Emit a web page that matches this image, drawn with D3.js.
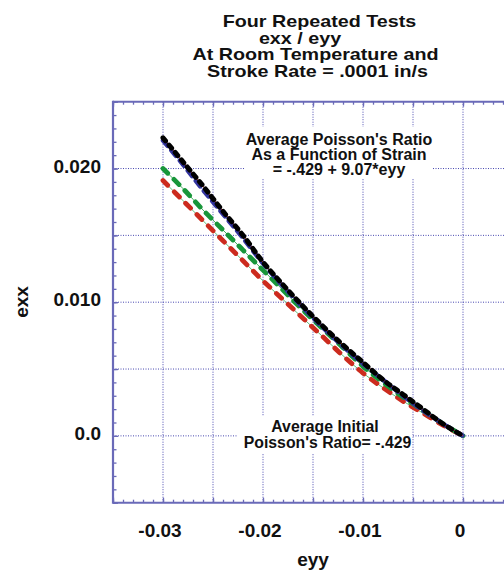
<!DOCTYPE html>
<html><head><meta charset="utf-8">
<script src="https://cdn.jsdelivr.net/npm/d3@7"></script>
<style>body{margin:0;background:#fff}svg{display:block}text{font-family:"Liberation Sans",Arial,Helvetica,sans-serif;font-weight:bold;fill:#111}</style>
</head><body><svg id="c" width="504" height="573"></svg>
<script>
// ---- data ----
const eyy = [-0.030,-0.028,-0.026,-0.024,-0.022,-0.020,-0.018,-0.016,-0.014,-0.012,-0.010,-0.008,-0.006,-0.004,-0.002,0];
const exxBlack = [0.0223,0.0205,0.0187,0.0168,0.0150,0.0130,0.0113,0.0097,0.0082,0.0068,0.0055,0.0042,0.0031,0.0020,0.0009,0];
const exxBlue  = [0.0221,0.0203,0.0184,0.0166,0.0148,0.0129,0.0112,0.0096,0.0081,0.0067,0.0054,0.0042,0.0030,0.0019,0.0009,0];
const exxGreen = [0.0200,0.0185,0.0169,0.0154,0.0139,0.0124,0.0109,0.0094,0.0080,0.0066,0.0052,0.0040,0.0029,0.0019,0.0009,0];
const exxRed   = [0.0191,0.0176,0.0161,0.0146,0.0131,0.0116,0.0102,0.0088,0.0074,0.0060,0.0047,0.0036,0.0026,0.0017,0.0008,0];
const xTickValues = [-0.03,-0.02,-0.01,0];
const xTickLabels = ["-0.03","-0.02","-0.01","0"];
const yTickValues = [0.02,0.01,0.0];
const yTickLabels = ["0.020","0.010","0.0"];
const titleLines = ["Four Repeated Tests","exx / eyy","At Room Temperature and","Stroke Rate = .0001 in/s"];
const note1 = ["Average Poisson's Ratio","As a Function of Strain","= -.429 + 9.07*eyy"];
const note2 = ["Average Initial","Poisson's Ratio= -.429"];

// ---- layout ----
const L=113, R=513, T=101.7, B=502.7;
const x = d3.scaleLinear().domain([-0.035,0.005]).range([L,R]);
const y = d3.scaleLinear().domain([-0.005,0.025]).range([B,T]);
const svg = d3.select("#c");
const frameCol="#6a6ab8", gridCol="#4848b0";

// grid
const gx = d3.range(-0.03,0.0051,0.005);
const gy = d3.range(0,0.0201,0.005);
svg.append("g").selectAll("line").data(gx).join("line")
  .attr("x1",d=>x(d)).attr("x2",d=>x(d)).attr("y1",T).attr("y2",B)
  .attr("stroke",gridCol).attr("stroke-width",1).attr("stroke-dasharray","1,1.5");
svg.append("g").selectAll("line").data(gy).join("line")
  .attr("y1",d=>y(d)).attr("y2",d=>y(d)).attr("x1",L).attr("x2",R)
  .attr("stroke",gridCol).attr("stroke-width",1).attr("stroke-dasharray","1,1.5");

// annotation backgrounds
svg.append("rect").attr("x",245).attr("y",127).attr("width",188).attr("height",52).attr("fill","#fff");
svg.append("rect").attr("x",237).attr("y",416).attr("width",175).attr("height",37).attr("fill","#fff");

// axes ticks (inward)
function styleAxis(g){g.select(".domain").remove();g.selectAll("line").attr("stroke",frameCol).attr("stroke-width",1.3);g.selectAll("text").remove();}
const minorX = d3.range(-0.035,0.0051,0.001), majorX=d3.range(-0.035,0.0051,0.005);
const minorY = d3.range(-0.005,0.0251,0.001), majorY=d3.range(-0.005,0.0251,0.005);
svg.append("g").attr("transform",`translate(0,${B})`).call(d3.axisBottom(x).tickValues(minorX).tickSize(-3).tickFormat("")).call(styleAxis);
svg.append("g").attr("transform",`translate(0,${B})`).call(d3.axisBottom(x).tickValues(majorX).tickSize(-5).tickFormat("")).call(styleAxis);
svg.append("g").attr("transform",`translate(0,${T})`).call(d3.axisTop(x).tickValues(minorX).tickSize(-3).tickFormat("")).call(styleAxis);
svg.append("g").attr("transform",`translate(0,${T})`).call(d3.axisTop(x).tickValues(majorX).tickSize(-5).tickFormat("")).call(styleAxis);
svg.append("g").attr("transform",`translate(${L},0)`).call(d3.axisLeft(y).tickValues(minorY).tickSize(-3.5).tickFormat("")).call(styleAxis);
svg.append("g").attr("transform",`translate(${L},0)`).call(d3.axisLeft(y).tickValues(majorY).tickSize(-5).tickFormat("")).call(styleAxis);

// frame
svg.append("line").attr("x1",L).attr("x2",L).attr("y1",T-1).attr("y2",B+1).attr("stroke",frameCol).attr("stroke-width",2.2);
svg.append("line").attr("x1",L).attr("x2",R).attr("y1",T).attr("y2",T).attr("stroke",frameCol).attr("stroke-width",2);
svg.append("line").attr("x1",L).attr("x2",R).attr("y1",B).attr("y2",B).attr("stroke",frameCol).attr("stroke-width",2);
svg.append("line").attr("x1",R).attr("x2",R).attr("y1",T).attr("y2",B).attr("stroke",frameCol).attr("stroke-width",2);

// curves
const series = [
  {v:exxRed,   thick:"#cc2b1e", thin:"#5fbf7a", dash:"7,9", w:4.8},
  {v:exxGreen, thick:"#18963a", thin:"#3fae5c", dash:"7,8.5", w:4.8},
  {v:exxBlue,  thick:"#33349e", thin:"#6a6ad4", dash:"7,6", w:4.5},
  {v:exxBlack, thick:"#000000", thin:"#d04030", dash:"4,5.5", w:5}
];
const line = d3.line().x((d,i)=>x(eyy[i])).y(d=>y(d)).curve(d3.curveCatmullRom);
series.forEach(s=>{
  svg.append("path").datum(s.v).attr("d",line).attr("fill","none").attr("stroke",s.thin).attr("stroke-width",1);
  svg.append("path").datum(s.v).attr("d",line).attr("fill","none").attr("stroke",s.thick)
    .attr("stroke-width",s.w).attr("stroke-dasharray",s.dash).attr("stroke-linecap","round");
});

// labels
function stretchText(txt,cx,by,size,sx){
  svg.append("text").attr("transform",`translate(${cx},${by}) scale(${sx},1)`)
    .attr("text-anchor","middle").style("font-size",size+"px").text(txt);
}
const titleX=[319.5,300,315.5,317.5], titleY=[27,43.5,60,76.5];
titleLines.forEach((t,i)=>stretchText(t,titleX[i],titleY[i],17,1.16));
note1.forEach((t,i)=>stretchText(t,339,145+15*i,16,1));
const n2x=[325,327.5];
note2.forEach((t,i)=>stretchText(t,n2x[i],432.3+15.4*i,15.8,1));

svg.append("g").selectAll("text").data(xTickValues).join("text")
  .attr("x",d=>x(d)-3).attr("y",537).attr("text-anchor","middle").style("font-size","19px")
  .text((d,i)=>xTickLabels[i]);
svg.append("g").selectAll("text").data(yTickValues).join("text")
  .attr("x",101).attr("y",d=>y(d)+4).attr("text-anchor","end").style("font-size","19px")
  .text((d,i)=>yTickLabels[i]);
svg.append("text").attr("x",313).attr("y",566).attr("text-anchor","middle").style("font-size","19px").text("eyy");
svg.append("text").attr("transform","translate(28,302) rotate(-90)").attr("text-anchor","middle").style("font-size","19px").text("exx");
</script></body></html>
